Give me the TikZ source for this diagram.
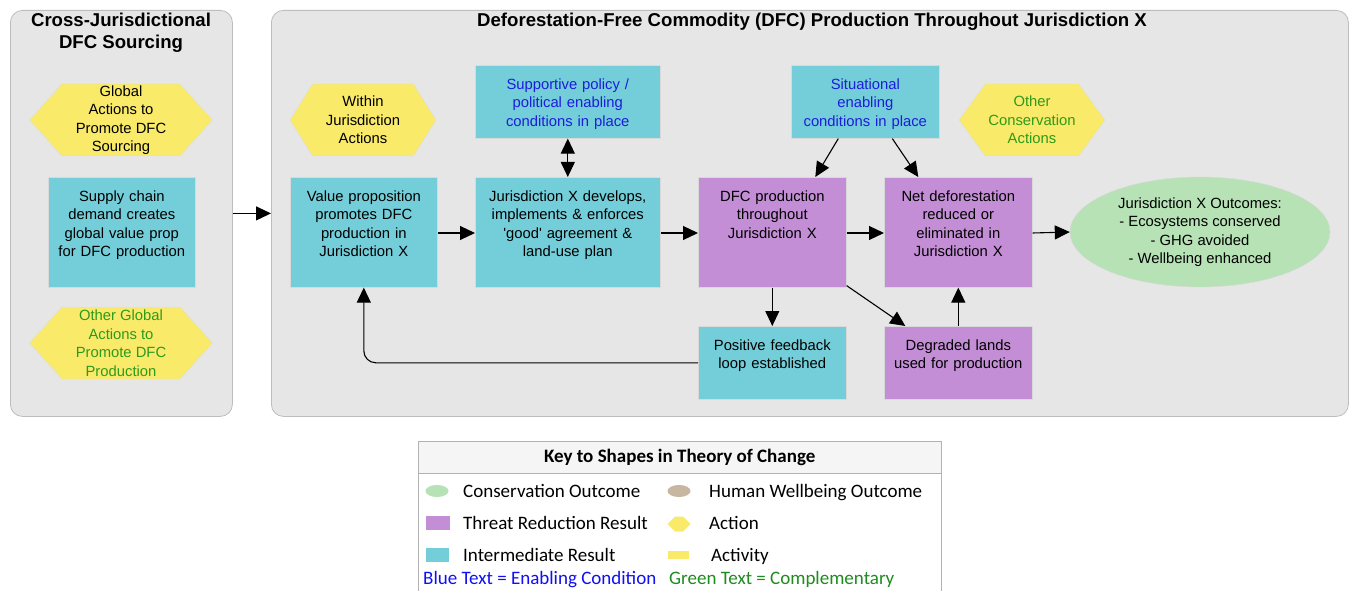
\documentclass[tikz,border=0pt]{standalone}
\usepackage{fontspec}
\setmainfont{Liberation Sans}
\newfontfamily\keyfont{Carlito}
\usetikzlibrary{shapes.geometric,shapes.symbols,arrows.meta}

\definecolor{irfill}{HTML}{74CED9}
\definecolor{trfill}{HTML}{C48ED6}
\definecolor{actfill}{HTML}{F9EA6A}
\definecolor{outfill}{HTML}{B6E2B5}
\definecolor{hwfill}{HTML}{C8B7A0}
\definecolor{panelfill}{HTML}{E6E6E6}
\definecolor{panelline}{HTML}{BDBDBD}
\definecolor{enabletxt}{HTML}{1C1CDC}
\definecolor{complemtxt}{HTML}{2E9A1C}
\definecolor{keyblue}{HTML}{1010F0}
\definecolor{keygreen}{HTML}{1E8C1E}

\tikzset{
    boxfont/.style={font=\fontsize{14.8}{18.5}\selectfont},
    panel/.style={draw=panelline, fill=panelfill, rounded corners=12pt, line width=0.8pt, inner sep=0pt, anchor=north west},
    res/.style={draw=gray!30, line width=0.6pt, inner sep=0pt, align=center, text width=#1, boxfont, anchor=north west},
    tall/.style={text height=24pt, text depth=86pt},
    short/.style={text height=24pt, text depth=49pt},
    ir/.style={res=#1, fill=irfill},
    trr/.style={res=#1, fill=trfill},
    act/.style={signal, signal to=east and west, fill=actfill, draw=gray!25, inner sep=0pt, align=center, boxfont, minimum height=72},
    outc/.style={ellipse, fill=outfill, draw=gray!30, inner sep=0pt, align=center, boxfont, minimum width=260, minimum height=110},
    arr/.style={-{Triangle[length=15pt,width=14pt]}, line width=1.1pt},
    dblarr/.style={{Triangle[length=15pt,width=14pt]}-{Triangle[length=15pt,width=14pt]}, line width=1.1pt},
    keytxt/.style={font=\keyfont\fontsize{19}{22}\selectfont, anchor=base west, inner sep=0pt},
}

\begin{document}
\begin{tikzpicture}[x=1pt,y=-1pt]
    \fill[white] (0,0) rectangle (1350,591);
    \useasboundingbox (0,0) rectangle (1350,591);

    % panels
    \node[panel, minimum width=222, minimum height=406] (lpanel) at (10,10) {};
    \node[panel, minimum width=1077, minimum height=406] (rpanel) at (271,10) {};
    \node[font=\bfseries\fontsize{18.6}{22}\selectfont, align=center] (ltitle) at (121,33) {Cross-Jurisdictional\\DFC Sourcing};
    \node[font=\bfseries\fontsize{18.6}{22}\selectfont] (rtitle) at (812,22) {Deforestation-Free Commodity (DFC) Production Throughout Jurisdiction X};

    % cross-jurisdictional column
    \node[act, minimum width=183, signal pointer angle=96] (globact) at (121,120) {Global\\Actions to\\Promote DFC\\Sourcing};
    \node[ir=147, tall] (supply) at (48,177) {Supply chain\\demand creates\\global value prop\\for DFC production};
    \node[act, minimum width=183, signal pointer angle=96, text=complemtxt] (othglob) at (121,343) {Other Global\\Actions to\\Promote DFC\\Production};

    % jurisdiction X
    \node[act, minimum width=146, signal pointer angle=116] (within) at (363,120) {Within\\Jurisdiction\\Actions};
    \node[ir=147, tall] (valprop) at (290,177) {Value proposition\\promotes DFC\\production in\\Jurisdiction X};
    \node[ir=185, short, text=enabletxt] (policy) at (475,65) {Supportive policy /\\political enabling\\conditions in place};
    \node[ir=185, tall] (juris) at (475,177) {Jurisdiction X develops,\\implements \& enforces\\\textquotesingle good\textquotesingle{} agreement \&\\land-use plan};
    \node[ir=148, short, text=enabletxt] (situ) at (791,65) {Situational\\enabling\\conditions in place};
    \node[trr=148, tall] (dfcprod) at (698,177) {DFC production\\throughout\\Jurisdiction X};
    \node[trr=148, tall] (netdef) at (884,177) {Net deforestation\\reduced or\\eliminated in\\Jurisdiction X};
    \node[act, minimum width=146, signal pointer angle=108, text=complemtxt] (othcons) at (1032,120) {Other\\Conservation\\Actions};
    \node[outc] (outcome) at (1200,232) {Jurisdiction X Outcomes:\\- Ecosystems conserved\\- GHG avoided\\- Wellbeing enhanced};
    \node[ir=148, short] (feedback) at (698,326) {Positive feedback\\loop established};
    \node[trr=148, short] (degraded) at (884,326) {Degraded lands\\used for production};

    % connectors
    \draw[arr] (lpanel.east) -- (rpanel.west);
    \draw[arr] (valprop.east |- 0,233) -- (juris.west |- 0,233);
    \draw[dblarr] (policy.south) -- (juris.north);
    \draw[arr] (juris.east |- 0,233) -- (dfcprod.west |- 0,233);
    \draw[arr] ([xshift=-27pt]situ.south) -- ([xshift=43pt]dfcprod.north);
    \draw[arr] ([xshift=27pt]situ.south) -- ([xshift=-40pt]netdef.north);
    \draw[arr] (dfcprod.east |- 0,233) -- (netdef.west |- 0,233);
    \draw[arr] (netdef.east |- 0,233) -- (outcome.west);
    \draw[arr] (dfcprod.south) -- (feedback.north);
    \draw[arr] ([yshift=2pt]dfcprod.south east) -- ([xshift=-53pt]degraded.north);
    \draw[arr] (degraded.north) -- (netdef.south);
    \draw[arr, rounded corners=12pt] (feedback.west) -| (valprop.south);

    % key
    \node[draw=gray!60, fill=white, minimum width=523, minimum height=160, anchor=north west, inner sep=0pt] (keybox) at (418,441) {};
    \node[draw=gray!60, fill=gray!8, minimum width=523, minimum height=32, anchor=north west, inner sep=0pt, font=\keyfont\bfseries\fontsize{19}{22}\selectfont] (keyhead) at (418,441) {Key to Shapes in Theory of Change};

    \node[ellipse, fill=outfill, minimum width=23, minimum height=12, inner sep=0pt] (kco) at (437,491) {};
    \node[keytxt] (kcotxt) at (463,497) {Conservation Outcome};
    \node[ellipse, fill=hwfill, minimum width=23, minimum height=12, inner sep=0pt] (khw) at (679,491) {};
    \node[keytxt] (khwtxt) at (709,497) {Human Wellbeing Outcome};
    \node[fill=trfill, minimum width=24, minimum height=14, inner sep=0pt] (ktr) at (438,523) {};
    \node[keytxt] (ktrtxt) at (463,529) {Threat Reduction Result};
    \node[signal, signal to=east and west, fill=actfill, minimum width=23, minimum height=15, inner sep=0pt] (kact) at (679,524) {};
    \node[keytxt] (kacttxt) at (709,529) {Action};
    \node[fill=irfill, minimum width=23, minimum height=14, inner sep=0pt] (kir) at (437,555) {};
    \node[keytxt] (kirtxt) at (463,561) {Intermediate Result};
    \node[fill=actfill, minimum width=21, minimum height=8, inner sep=0pt] (kactv) at (678,555) {};
    \node[keytxt] (kactvtxt) at (711,561) {Activity};
    \node[keytxt, text=keyblue] (kblue) at (423,584) {Blue Text = Enabling Condition};
    \node[keytxt, text=keygreen] (kgreen) at (669,584) {Green Text = Complementary};
\end{tikzpicture}
\end{document}
